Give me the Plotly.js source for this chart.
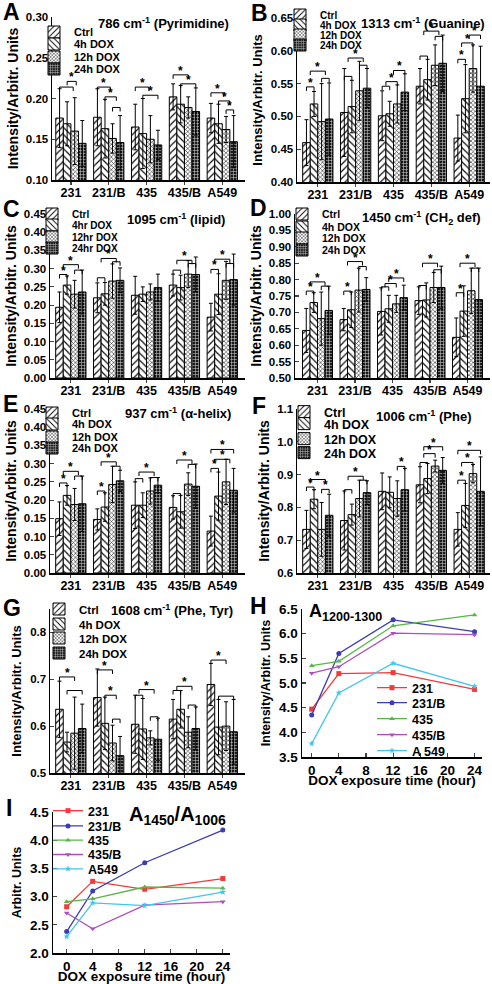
<!DOCTYPE html>
<html><head><meta charset="utf-8">
<script src="https://cdn.plot.ly/plotly-3.0.1.min.js"></script>
<style>
html,body{margin:0;padding:0;background:#fff;width:492px;height:984px;overflow:hidden;position:relative}
.p{position:absolute}
</style></head><body>
<script>
// ---------- DATA ----------
const cells = ['231','231/B','435','435/B','A549'];
const seriesH = ['Ctrl','4h DOX','12h DOX','24h DOX'];
const seriesHr = ['Ctrl','4hr DOX','12hr DOX','24hr DOX'];

// means/errors: rows = Ctrl, 4h, 12h, 24h ; columns = cells
const A_means = [[0.176,0.177,0.165,0.202,0.176],[0.169,0.163,0.157,0.193,0.169],[0.160,0.151,0.150,0.189,0.162],[0.145,0.146,0.143,0.184,0.147]];
const A_errs  = [[0.036,0.035,0.028,0.016,0.018],[0.027,0.036,0.043,0.023,0.024],[0.041,0.018,0.029,0.013,0.016],[0.028,0.033,0.018,0.029,0.032]];
const B_means = [[0.460,0.506,0.501,0.546,0.467],[0.519,0.515,0.504,0.556,0.527],[0.492,0.539,0.519,0.578,0.573],[0.496,0.543,0.537,0.581,0.546]];
const B_errs  = [[0.035,0.067,0.038,0.027,0.035],[0.019,0.040,0.019,0.031,0.052],[0.058,0.045,0.029,0.031,0.036],[0.055,0.030,0.028,0.043,0.061]];
const C_means = [[0.194,0.220,0.227,0.255,0.167],[0.255,0.231,0.230,0.248,0.230],[0.230,0.266,0.236,0.285,0.268],[0.236,0.268,0.248,0.284,0.270]];
const C_errs  = [[0.042,0.041,0.052,0.030,0.038],[0.025,0.031,0.020,0.034,0.056],[0.038,0.047,0.022,0.037,0.052],[0.060,0.034,0.037,0.048,0.070]];
const D_means = [[0.645,0.678,0.703,0.736,0.624],[0.730,0.708,0.711,0.738,0.704],[0.681,0.768,0.726,0.776,0.766],[0.706,0.770,0.745,0.776,0.739]];
const D_errs  = [[0.067,0.034,0.072,0.042,0.059],[0.030,0.054,0.041,0.052,0.077],[0.081,0.067,0.026,0.046,0.069],[0.074,0.036,0.038,0.065,0.096]];
const E_means = [[0.149,0.147,0.186,0.180,0.115],[0.213,0.181,0.186,0.168,0.211],[0.188,0.243,0.225,0.244,0.250],[0.190,0.253,0.241,0.238,0.227]];
const E_errs  = [[0.046,0.029,0.064,0.032,0.041],[0.027,0.039,0.034,0.045,0.066],[0.044,0.050,0.036,0.031,0.062],[0.076,0.029,0.021,0.061,0.060]];
const F_means = [[0.733,0.760,0.849,0.869,0.733],[0.825,0.778,0.846,0.888,0.806],[0.733,0.827,0.827,0.926,0.903],[0.776,0.845,0.854,0.913,0.849]];
const F_errs  = [[0.058,0.090,0.056,0.055,0.051],[0.029,0.032,0.047,0.046,0.067],[0.082,0.056,0.054,0.018,0.028],[0.064,0.036,0.065,0.039,0.105]];
const G_means = [[0.636,0.661,0.604,0.615,0.689],[0.566,0.606,0.594,0.636,0.598],[0.585,0.564,0.575,0.587,0.600],[0.595,0.537,0.572,0.595,0.588]];
const G_errs  = [[0.060,0.061,0.062,0.042,0.045],[0.021,0.056,0.065,0.040,0.059],[0.077,0.038,0.015,0.033,0.052],[0.052,0.041,0.045,0.046,0.069]];

// significance brackets: [cell index, from bar, to bar, level, star]
const A_sig = [[0,0,1.8,0.214,0],[0,1,2.2,0.221,1],[1,0,1.7,0.214,1],[1,1,2.5,0.202,1],[1,2,3,0.189,0],[2,0,1.8,0.214,1],[2,1,3,0.204,1],[3,0,2,0.229,1],[3,1,3,0.218,1],[4,0,1.7,0.207,1],[4,1,2.5,0.197,1],[4,2,3,0.186,1]];
const B_sig = [[0,0,1,0.545,1],[0,2,3,0.558,0],[0,0.5,2.5,0.569,1],[1,0,1,0.561,0],[1,2,3,0.578,0],[1,0.5,2.5,0.589,1],[2,0,1,0.546,0],[2,0.5,2,0.553,1],[2,1.5,3,0.570,1],[3,0,1,0.592,0],[3,2,3,0.622,0],[3,0.5,2.5,0.630,1],[4,0,1,0.587,1],[4,0.5,2,0.612,1],[4,1.5,3,0.624,1]];
const C_sig = [[0,0,1,0.284,1],[0,2,3,0.296,0],[0,0.5,2.5,0.311,1],[1,0,1,0.275,0],[1,2,3,0.319,0],[1,0.5,2.5,0.328,1],[3,0,1,0.296,0],[3,2,3,0.314,0],[3,0.5,2.5,0.323,1],[4,0,1,0.298,1],[4,2,3,0.314,0],[4,0.5,2.5,0.326,1]];
const D_sig = [[0,0,1,0.765,1],[0,2,3,0.780,0],[0,0.5,2.5,0.793,1],[1,0,1,0.765,1],[1,2,3,0.840,0],[1,0.5,2.5,0.855,1],[2,0,1,0.778,0],[2,0.5,2,0.788,1],[2,1,3,0.805,1],[3,0,1,0.782,0],[3,2,3,0.830,0],[3,0.5,2.5,0.850,1],[4,0,1,0.760,1],[4,2,3,0.835,0],[4,0.5,2.5,0.850,1]];
const E_sig = [[0,0,1,0.247,1],[0,2,3,0.266,0],[0,0.5,2.5,0.279,1],[1,0,1,0.225,1],[1,2,3,0.293,0],[1,0.5,2.5,0.305,1],[2,0,1,0.259,0],[2,2,3,0.262,0],[2,0.5,2.5,0.277,1],[3,0,1,0.218,0],[3,2,3,0.298,0],[3,0.5,2.5,0.310,1],[4,0,1,0.287,1],[4,0.5,2.5,0.312,1],[4,0,3,0.339,1]];
const F_sig = [[0,0,1,0.862,1],[0,2,3,0.855,1],[0,0.5,2.5,0.885,1],[1,0,1,0.854,0],[1,2,3,0.883,0],[1,0.5,2.5,0.895,1],[2,2,3,0.925,1],[3,0,1,0.937,0],[3,0.5,2,0.964,1],[3,0.5,3,0.985,1],[4,0,1,0.883,1],[4,0.5,2,0.937,1],[4,0,3,0.974,1]];
const G_sig = [[0,0,2,0.705,1],[0,1,3,0.676,0],[1,0,2,0.720,1],[1,1,2.5,0.666,1],[1,2,3,0.615,0],[2,0,1,0.666,0],[2,0.5,2.5,0.678,1],[2,2,3,0.620,0],[3,0,1,0.676,0],[3,0.5,2.5,0.685,1],[3,2,3,0.645,0],[4,0,2,0.741,1],[4,1,3,0.664,0]];

// time courses
const hours = [0,4,12,24];
const lineNamesH = ['231','231/B','435','435/B','A 549'];
const lineNamesI = ['231','231/B','435','435/B','A549'];
const H_231  = [4.47,5.19,5.21,4.87];
const H_231B = [4.35,5.60,6.28,6.04];
const H_435  = [5.35,5.44,6.16,6.38];
const H_435B = [5.20,5.33,6.01,5.98];
const H_A549 = [3.77,4.80,5.40,4.93];
const I_231  = [2.82,3.27,3.13,3.32];
const I_231B = [2.38,3.10,3.60,4.18];
const I_435  = [2.91,2.96,3.17,3.15];
const I_435B = [2.71,2.43,2.85,2.91];
const I_A549 = [2.29,2.89,2.84,3.08];

// ---------- STYLE ----------
const FONT = '"Liberation Sans", Arial, sans-serif';
const patterns = [
  {shape:'/', fgcolor:'#111', bgcolor:'#fff', size:5, solidity:0.25},
  {shape:'\\', fgcolor:'#111', bgcolor:'#fff', size:5, solidity:0.25},
  {shape:'x', fgcolor:'#222', bgcolor:'#fff', size:3, solidity:0.35},
  {shape:'+', fgcolor:'#ddd', bgcolor:'#1a1a1a', size:3, solidity:0.3}
];
const lineColors = ['#f23a3a','#3c3cb4','#55b845','#b04cc0','#40c6ea'];
const lineSymbols = ['square','circle','triangle-up','triangle-down','star'];

function mkDiv(g){
  const d = document.createElement('div');
  d.className='p';
  d.style.left=g.left+'px'; d.style.top=g.top+'px';
  d.style.width=g.W+'px'; d.style.height=g.H+'px';
  document.body.appendChild(d);
  return d;
}
function conv(g){
  const pw=g.W-g.l-g.r, ph=g.H-g.t-g.b;
  return {px:a=>(a-g.left-g.l)/pw, py:a=>1-(a-g.top-g.t)/ph, pw, ph};
}
function txt(c, text, ax, ay, size, extra){
  return Object.assign({xref:'paper', yref:'paper', x:c.px(ax), y:c.py(ay), text, showarrow:false, borderpad:0,
    xanchor:'center', yanchor:'middle', font:{family:FONT, size, color:'#000', weight:'bold'}}, extra||{});
}
function legendKey(k){ return k===0 ? 'legend' : 'legend'+(k+1); }
function addLegends(layout, c, lx, lys, size){
  lys.forEach((yc,k)=>{
    layout[legendKey(k)] = {x:c.px(lx), y:c.py(yc), xanchor:'left', yanchor:'middle', bgcolor:'rgba(0,0,0,0)',
      borderwidth:0, font:{family:FONT, size, color:'#000', weight:'bold'}};
  });
}

function barPanel(p){
  const g=p.g, c=conv(g);
  const traces = p.means.map((m,k)=>({
    type:'bar', x:cells, y:m, name:p.names[k], legend:legendKey(k),
    marker:{color:'#fff', line:{color:'#000', width:1}, pattern:patterns[k]},
    error_y:{type:'data', array:p.errs[k], visible:true, color:'#000', thickness:1, width:2}
  }));
  const span = p.yr[1]-p.yr[0];
  const leg = 4*span/c.ph;
  const shapes=[], ann=[];
  p.sig.forEach(s=>{
    const x0 = s[0]-0.3+0.2*s[1], x1 = s[0]-0.3+0.2*s[2], y=s[3];
    const ln = {type:'line', xref:'x', yref:'y', line:{color:'#000', width:1}};
    shapes.push(Object.assign({x0:x0,x1:x1,y0:y,y1:y},ln));
    shapes.push(Object.assign({x0:x0,x1:x0,y0:y,y1:y-leg},ln));
    shapes.push(Object.assign({x0:x1,x1:x1,y0:y,y1:y-leg},ln));
    if(s[4]) ann.push({xref:'x', yref:'y', x:(x0+x1)/2, y:y, text:'*', showarrow:false, yanchor:'bottom', yshift:-5,
      font:{family:FONT, size:12, color:'#000', weight:'bold'}});
  });
  ann.push(txt(c, p.letter, p.lp[0], p.lp[1], 23));
  ann.push(txt(c, p.title, p.tp[0], p.tp[1], 13));
  const layout = {
    width:g.W, height:g.H, margin:{l:g.l, r:g.r, t:g.t, b:g.b, pad:0},
    paper_bgcolor:'rgba(0,0,0,0)', plot_bgcolor:'rgba(0,0,0,0)',
    barmode:'group', bargap:0.2, bargroupgap:0,
    font:{family:FONT, color:'#000', weight:'bold'},
    showlegend:true,
    xaxis:{type:'category', range:p.xr, showline:true, linewidth:1.5, linecolor:'#000', ticks:'outside', ticklen:3, tickwidth:1.2,
      ticklabelstandoff:-3,
      tickfont:{family:FONT, size:12.5, color:'#000', weight:'bold'}, showgrid:false, zeroline:false, fixedrange:true},
    yaxis:{range:p.yr, tick0:p.yr[0], dtick:p.dt, tickformat:p.fmt, showline:true, linewidth:1.5, linecolor:'#000',
      ticks:'inside', ticklen:4, tickwidth:1.2, tickfont:{family:FONT, size:11.5, color:'#000', weight:'bold'},
      showgrid:false, zeroline:false, fixedrange:true,
      title:{text:'Intensity/Arbitr. Units', font:{family:FONT, size:p.yts, color:'#000', weight:'bold'}, standoff:p.so}},
    shapes, annotations:ann
  };
  addLegends(layout, c, p.legx, p.legy, p.lfs);
  Plotly.newPlot(mkDiv(g), traces, layout, {staticPlot:true});
}

function linePanel(p){
  const g=p.g, c=conv(g);
  const traces = p.series.map((ys,k)=>({
    type:'scatter', mode:'lines+markers', x:hours, y:ys, name:p.names[k], legend:legendKey(k),
    line:{color:lineColors[k], width:1.3},
    marker:{color:lineColors[k], symbol:lineSymbols[k], size:5}
  }));
  const ann = [txt(c, p.letter, p.lp[0], p.lp[1], 23), txt(c, p.title, p.tp[0], p.tp[1], p.ts, {xanchor:'left'})];
  const layout = {
    width:g.W, height:g.H, margin:{l:g.l, r:g.r, t:g.t, b:g.b, pad:0},
    paper_bgcolor:'rgba(0,0,0,0)', plot_bgcolor:'rgba(0,0,0,0)',
    font:{family:FONT, color:'#000', weight:'bold'},
    showlegend:true,
    xaxis:{range:p.xr, tick0:0, dtick:4, showline:true, linewidth:1.5, linecolor:'#000', ticks:'inside', ticklen:4, tickwidth:1.2,
      tickfont:{family:FONT, size:13.5, color:'#000', weight:'bold'}, showgrid:false, zeroline:false, fixedrange:true,
      title:{text:'DOX exposure time (hour)', font:{family:FONT, size:13.5, color:'#000', weight:'bold'}, standoff:1}},
    yaxis:{range:p.yr, tick0:p.yr[0], dtick:0.5, tickformat:'.1f', showline:true, linewidth:1.5, linecolor:'#000',
      ticks:'inside', ticklen:4, tickwidth:1.2, tickfont:{family:FONT, size:13.5, color:'#000', weight:'bold'},
      showgrid:false, zeroline:false, fixedrange:true,
      title:{text:p.ytitle, font:{family:FONT, size:12.5, color:'#000', weight:'bold'}, standoff:p.so}},
    annotations:ann
  };
  addLegends(layout, c, p.legx, p.legy, 12.5);
  Plotly.newPlot(mkDiv(g), traces, layout, {staticPlot:true});
}

barPanel({g:{left:0,top:0,W:246,H:215,l:52,r:1,t:17,b:35}, means:A_means, errs:A_errs, names:seriesH, sig:A_sig,
  yr:[0.10,0.30], dt:0.05, fmt:'.2f', xr:[-0.5,4.6], so:4, yts:14, lfs:11,
  letter:'A', lp:[11,12], title:'786 cm<sup>-1</sup> (Pyrimidine)', tp:[163,23], legx:34, legy:[32,44,57,69]});
barPanel({g:{left:246,top:0,W:246,H:215,l:51,r:2,t:17,b:33}, means:B_means, errs:B_errs, names:seriesH, sig:B_sig,
  yr:[0.40,0.65], dt:0.05, fmt:'.2f', xr:[-0.55,4.55], so:5, yts:13, lfs:10,
  letter:'B', lp:[259,12], title:'1313 cm<sup>-1</sup> (Guanine)', tp:[423,22], legx:280, legy:[15,25,35,45]});
barPanel({g:{left:0,top:196,W:246,H:215,l:50,r:1,t:18,b:33}, means:C_means, errs:C_errs, names:seriesHr, sig:C_sig,
  yr:[0,0.45], dt:0.05, fmt:'.2f', xr:[-0.55,4.6], so:4, yts:14, lfs:10,
  letter:'C', lp:[11,209], title:'1095 cm<sup>-1</sup> (lipid)', tp:[176,219], legx:32, legy:[214,225,237,248]});
barPanel({g:{left:246,top:196,W:246,H:215,l:49,r:2,t:18,b:33}, means:D_means, errs:D_errs, names:seriesH, sig:D_sig,
  yr:[0.50,1.00], dt:0.05, fmt:'.2f', xr:[-0.6,4.6], so:4, yts:14, lfs:10.5,
  letter:'D', lp:[258,208], title:'1450 cm<sup>-1</sup> (CH<sub>2</sub> def)', tp:[421,218], legx:282, legy:[214,227,238,250]});
barPanel({g:{left:0,top:392,W:246,H:215,l:50,r:1,t:17,b:34}, means:E_means, errs:E_errs, names:seriesH, sig:E_sig,
  yr:[0,0.45], dt:0.05, fmt:'.2f', xr:[-0.55,4.6], so:4, yts:14, lfs:11,
  letter:'E', lp:[10,404], title:'937 cm<sup>-1</sup> (α-helix)', tp:[178,413], legx:32, legy:[413,424,437,448]});
barPanel({g:{left:246,top:392,W:246,H:215,l:51,r:2,t:17,b:34}, means:F_means, errs:F_errs, names:seriesH, sig:F_sig,
  yr:[0.6,1.1], dt:0.1, fmt:'.1f', xr:[-0.55,4.55], so:4, yts:14, lfs:12.5,
  letter:'F', lp:[259,406], title:'1006 cm<sup>-1</sup> (Phe)', tp:[424,416], legx:284, legy:[412,424,439,453]});
barPanel({g:{left:0,top:588,W:246,H:215,l:50,r:1,t:21,b:30}, means:G_means, errs:G_errs, names:seriesH, sig:G_sig,
  yr:[0.5,0.85], dt:0.1, fmt:'.1f', xr:[-0.55,4.6], so:5, yts:13, lfs:11.5,
  letter:'G', lp:[12,608], title:'1608 cm<sup>-1</sup> (Phe, Tyr)', tp:[172,610], legx:39, legy:[609,624,638,653]});
linePanel({g:{left:246,top:588,W:246,H:200,l:56,r:10,t:21,b:31}, series:[H_231,H_231B,H_435,H_435B,H_A549], names:lineNamesH,
  xr:[-1.43,25.1], yr:[3.5,6.5], so:5, ytitle:'Intensity/Arbitr. Units',
  letter:'H', lp:[258,606], title:'A<sub>1200-1300</sub>', tp:[308,613], ts:18, legx:372, legy:[688,703,719,735,751]});
linePanel({g:{left:0,top:784,W:246,H:200,l:53,r:16,t:21,b:31}, series:[I_231,I_231B,I_435,I_435B,I_A549], names:lineNamesI,
  xr:[-2.1,25.1], yr:[2.0,4.5], so:5, ytitle:'Arbitr. Units',
  letter:'I', lp:[9,801], title:'A<sub>1450</sub>/A<sub>1006</sub>', tp:[128,809], ts:20, legx:48, legy:[804,820,835,850,865]});
</script>
</body></html>
